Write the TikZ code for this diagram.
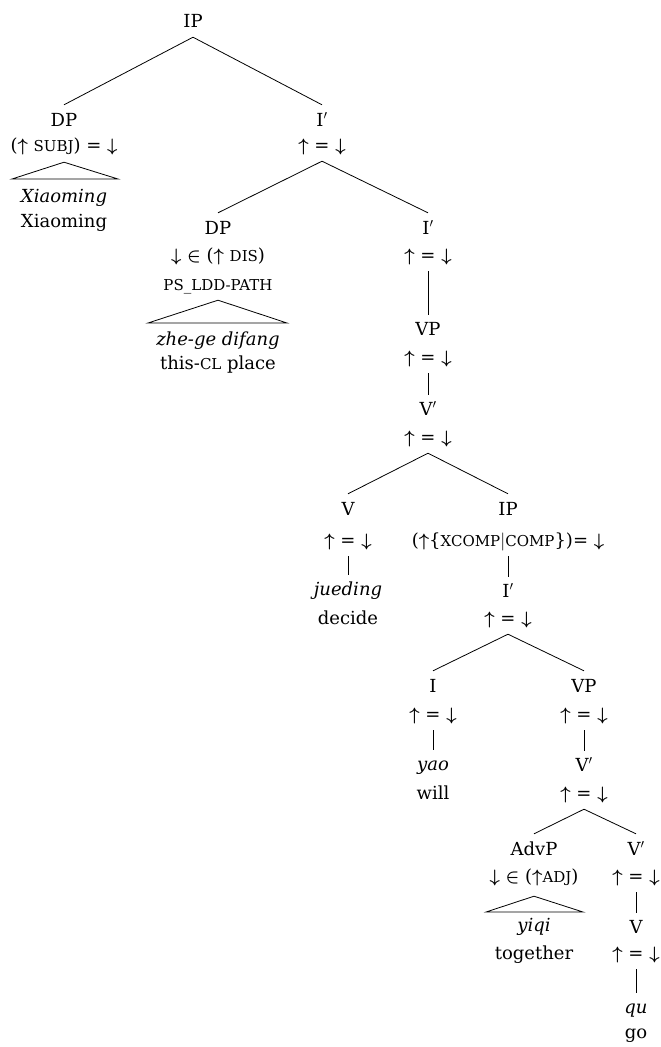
\RequirePackage{fix-cm}
\documentclass[tikz,border=0pt]{standalone}
\usepackage[no-math]{fontspec}
\setmainfont{DejaVu Serif}
% arrow and membership symbols, set in text next to text parentheses
\newcommand\myup{\mbox{\boldmath$\uparrow$}}
\newcommand\mydown{\mbox{\boldmath$\downarrow$}}
\newcommand\myin{\mbox{\boldmath$\in$}}
\newcommand\eqann{\myup{} = \mydown}
% small capitals for feature names
\newcommand\fsc[1]{{\fontsize{15}{15}\selectfont\MakeUppercase{#1}}}
\begin{document}
\begin{tikzpicture}[x=1pt,y=-1pt,
  every node/.style={inner sep=0pt, anchor=base, text height=13.5pt, text depth=4.5pt,
    font=\fontsize{18}{22}\selectfont},
  edge/.style={line width=0.8pt},
  tri/.style={line width=0.8pt}]
\useasboundingbox (0,0) rectangle (661,1047);

% matrix clause
\node (ip) at (193,27) {IP};
\node (dp) at (64,126) {DP};
\node (dpann) at (64,151) {(\myup{} \fsc{subj}) = \mydown};
\node (x1) at (64,202) {\textit{Xiaoming}};
\node (x1g) at (64,227) {Xiaoming};
\node (ib) at (322,126) {I$'$};
\node (ibann) at (322,151) {\eqann};

% topicalised DP
\node (dp2) at (218,234) {DP};
\node (dp2ann) at (218,261) {\mydown{} \myin{} (\myup{} \fsc{dis})};
\node (dp2path) at (218,290) {\fsc{ps\_ldd-path}};
\node (dp2it) at (218,345) {\textit{zhe-ge difang}};
\node (dp2gl) at (218,369) {this-\fsc{cl} place};

\node (ib2) at (428,234) {I$'$};
\node (ib2ann) at (428,261) {\eqann};
\node (vp) at (428,335) {VP};
\node (vpann) at (428,363) {\eqann};
\node (vb) at (428,415) {V$'$};
\node (vbann) at (428,443) {\eqann};

% main verb and complement clause
\node (v) at (348,515) {V};
\node (vann) at (348,546) {\eqann};
\node (jued) at (348,595) {\textit{jueding}};
\node (decide) at (348,624) {decide};
\node (ip2) at (508,515) {IP};
\node (ip2ann) at (508,546) {(\myup\{\fsc{xcomp}$\big|$\fsc{comp}\})= \mydown};
\node (ib3) at (508,597) {I$'$};
\node (ib3ann) at (508,624) {\eqann};

\node (i) at (433,692) {I};
\node (iann) at (433,720) {\eqann};
\node (yao) at (433,770) {\textit{yao}};
\node (will) at (433,799) {will};
\node (vp2) at (584,692) {VP};
\node (vp2ann) at (584,720) {\eqann};
\node (vb2) at (584,771) {V$'$};
\node (vb2ann) at (584,799) {\eqann};

\node (advp) at (534,855) {AdvP};
\node (advpann) at (534,882) {\mydown{} \myin{} (\myup\fsc{adj})};
\node (yiqi) at (534,931) {\textit{yiqi}};
\node (tog) at (534,959) {together};
\node (vb3) at (636,855) {V$'$};
\node (vb3ann) at (636,882) {\eqann};
\node (v2) at (636,933) {V};
\node (v2ann) at (636,959) {\eqann};
\node (qu) at (636,1013) {\textit{qu}};
\node (go) at (636,1038) {go};

% branching edges
\foreach \p/\c in {ip/dp, ip/ib, ibann/dp2, ibann/ib2, vbann/v, vbann/ip2,
                   ib3ann/i, ib3ann/vp2, vb2ann/advp, vb2ann/vb3}
  \draw[edge] ([yshift=-5.5pt]\p.south) -- ([yshift=7.5pt]\c.north);

% unary edges
\foreach \p/\c in {ib2ann/vp, vpann/vb, vann/jued, ip2ann/ib3, iann/yao,
                   vp2ann/vb2, vb3ann/v2, v2ann/qu}
  \draw[edge] ([yshift=-5.5pt]\p.south) -- ([yshift=6.5pt]\c.north);

% triangles over unanalysed phrases
\coordinate (t1l) at (12,179);  \coordinate (t1r) at (118,179);
\coordinate (t2l) at (148,323); \coordinate (t2r) at (287,323);
\coordinate (t3l) at (486,912); \coordinate (t3r) at (583,912);
\draw[tri] ([yshift=-6.5pt]dpann.south) -- (t1l) -- (t1r) -- cycle;
\draw[tri] ([yshift=-5.5pt]dp2path.south) -- (t2l) -- (t2r) -- cycle;
\draw[tri] ([yshift=-9.5pt]advpann.south) -- (t3l) -- (t3r) -- cycle;
\end{tikzpicture}
\end{document}
